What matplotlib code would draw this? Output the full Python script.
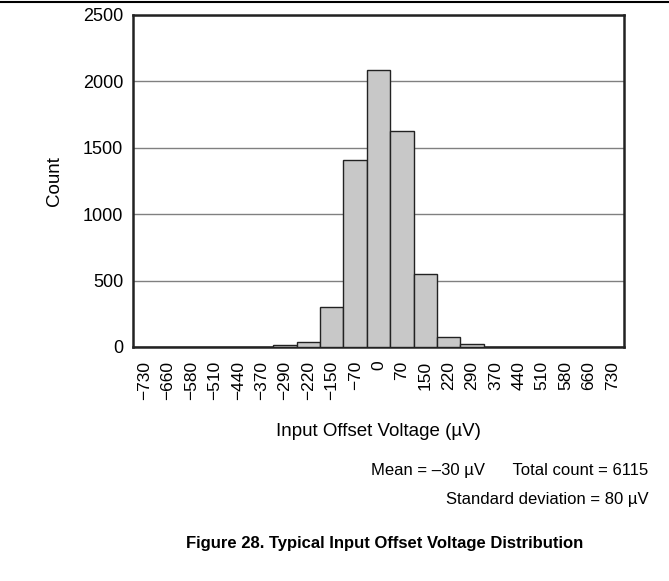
import matplotlib
matplotlib.use("Agg")
import matplotlib.pyplot as plt

plt.rcParams['font.family'] = ['Liberation Sans', 'DejaVu Sans']

# bin centres (uV) and counts
bins = ['\u2212730', '\u2212660', '\u2212580', '\u2212510', '\u2212440', '\u2212370',
        '\u2212290', '\u2212220', '\u2212150', '\u221270', '0', '70', '150', '220',
        '290', '370', '440', '510', '580', '660', '730']
counts = [0, 0, 0, 0, 0, 0, 12, 40, 302, 1410, 2085, 1628, 553, 78, 20, 0, 0, 0, 0, 0, 0]
yticks = [0, 500, 1000, 1500, 2000, 2500]

fig = plt.figure(figsize=(6.69, 5.81), dpi=100)
ax = fig.add_axes([0.1988, 0.4028, 0.734, 0.5714])

x = list(range(len(bins)))
ax.bar(x, counts, width=1.0, color='#c8c8c8', edgecolor='#222222', linewidth=1.0, zorder=3)

ax.set_xlim(-0.5, len(bins) - 0.5)
ax.set_ylim(0, 2500)
ax.set_yticks(yticks)
ax.set_yticklabels([str(v) for v in yticks], fontsize=13)
ax.set_xticks(x)
ax.set_xticklabels(bins, rotation=90, fontsize=12.5)
ax.tick_params(axis='y', length=0, pad=7)
ax.tick_params(axis='x', length=0, pad=10)
ax.yaxis.grid(True, color='#808080', linewidth=1.0, zorder=0)
ax.set_axisbelow(True)
for s in ax.spines.values():
    s.set_linewidth(1.8)
    s.set_color('#222222')

ax.set_ylabel('Count', fontsize=13.5, labelpad=14)

fig.text(0.565, 0.257, 'Input Offset Voltage (\u00b5V)', ha='center', va='center', fontsize=13.5)
fig.text(0.969, 0.191, 'Mean = \u201330 \u00b5V      Total count = 6115', ha='right', va='center', fontsize=12)
fig.text(0.969, 0.141, 'Standard deviation = 80 \u00b5V', ha='right', va='center', fontsize=12)
fig.text(0.575, 0.064, 'Figure 28. Typical Input Offset Voltage Distribution', ha='center',
         va='center', fontsize=12, fontweight='bold')

fig.add_artist(plt.Line2D([0, 1], [0.9966, 0.9966], transform=fig.transFigure,
                          color='black', linewidth=1.5))

fig.savefig('out.png', dpi=100)
